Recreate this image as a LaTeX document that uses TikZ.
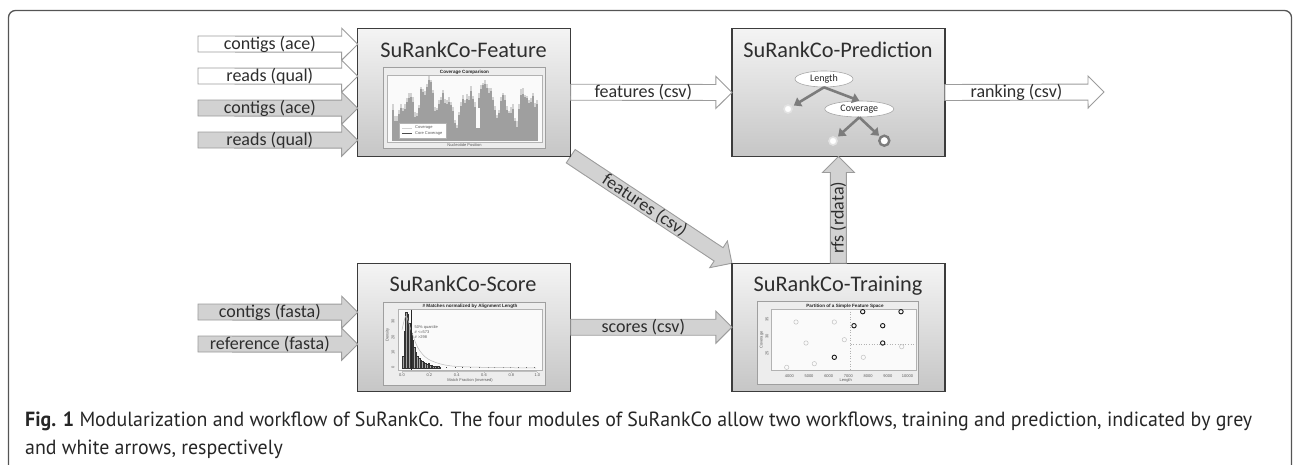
\documentclass[tikz,border=0pt]{standalone}
\usepackage{fontspec}
\setmainfont{Carlito}
\newfontfamily\capfont{PT Sans}
\newfontfamily\plotfont{Liberation Sans}
\usetikzlibrary{calc,arrows.meta,shapes.geometric}
\definecolor{boxline}{HTML}{3C3C3C}
\definecolor{boxtop}{HTML}{F4F4F4}
\definecolor{boxbot}{HTML}{C6C6C6}
\definecolor{arrline}{HTML}{9C9C9C}
\definecolor{arrgrey}{HTML}{D2D2D2}
\definecolor{txt}{HTML}{2E2E2E}
\definecolor{framec}{HTML}{555555}
\definecolor{treec}{HTML}{7C7C7C}
\tikzset{
  modbox/.style={draw=boxline, line width=1.4pt, top color=boxtop, bottom color=boxbot,
    minimum width=213pt, minimum height=128pt, inner sep=0pt, outer sep=0pt},
  modtitle/.style={font=\fontsize{22.3}{26}\selectfont, text=txt, inner sep=0pt, anchor=base},
  whitearr/.style={draw=arrline, fill=white, line width=0.9pt, line join=miter},
  greyarr/.style={draw=arrline, fill=arrgrey, line width=0.9pt, line join=miter},
  arrlabel/.style={font=\fontsize{18}{21}\selectfont, text=txt, inner sep=0pt},
  chartframe/.style={draw=gray!75, fill=gray!14, line width=0.6pt},
  plotarea/.style={draw=gray!60, fill=gray!4, line width=0.5pt},
  tiny/.style={font=\plotfont\fontsize{4}{5}\selectfont, text=gray!70!black, inner sep=0pt},
  tinyt/.style={font=\plotfont\bfseries\fontsize{4.6}{5}\selectfont, text=gray!30!black, inner sep=0pt},
  treearr/.style={draw=treec, line width=2.6pt, -{Triangle[length=7pt,width=10pt]}},
  treenode/.style={ellipse, draw=gray!70, fill=white, line width=0.6pt, inner sep=0pt,
    font=\fontsize{10}{11}\selectfont, text=gray!30!black},
  lightleaf/.style={circle, draw=gray!22, line width=1.6pt, fill=white, minimum size=8pt, inner sep=0pt},
  ringleaf/.style={circle, draw=treec, line width=2.4pt, fill=white, minimum size=10pt, inner sep=0pt},
  lpt/.style={draw=gray!45, line width=0.55pt},
  dpt/.style={draw=gray!20!black, line width=0.9pt},
}
% block arrow: style, start, end, label
\newcommand\barrow[4]{%
  \coordinate (bas) at (#2);
  \coordinate (bae) at (#3);
  \coordinate (bah) at ($(bae)!16pt!(bas)$);
  \path[#1] ($(bas)!8pt!90:(bae)$) -- ($(bah)!8pt!-90:(bas)$) -- ($(bah)!16pt!-90:(bas)$)
     -- (bae) -- ($(bah)!16pt!90:(bas)$) -- ($(bah)!8pt!90:(bas)$) -- ($(bas)!8pt!-90:(bae)$) -- cycle;
  \path (bas) -- (bah) node[midway, sloped, arrlabel] {#4};
}
\newlength\capw
\begin{document}
\settowidth\capw{\capfont\fontsize{20.5}{24}\selectfont\textbf{Fig. 1} Modularization and workflow of SuRankCo. The four modules of SuRankCo allow two workflows, training and prediction, indicated by grey}%
\pgfmathsetmacro\cs{1227/\capw}%
\begin{tikzpicture}[x=1pt, y=-1pt]
\useasboundingbox (0,0) rectangle (1293,464);
% outer frame
\draw[framec, line width=1.3pt, rounded corners=7pt] (8.5,470) -- (8.5,10.5) -- (1291.5,10.5) -- (1291.5,470);

% named positions
\coordinate (in1) at (198,44);
\coordinate (in2) at (198,76);
\coordinate (in3) at (198,108);
\coordinate (in4) at (198,140);
\coordinate (in5) at (198,312);
\coordinate (in6) at (198,344);
\coordinate (rankend) at (1104,92);

% module boxes (placed first as nodes, drawn later)
\path (464.2,92.2) node[minimum width=213pt, minimum height=128pt, inner sep=0pt, outer sep=0pt] (feat) {};
\path (838.4,92.5) node[minimum width=213pt, minimum height=128pt, inner sep=0pt, outer sep=0pt] (pred) {};
\path (464.2,327.2) node[minimum width=213pt, minimum height=128pt, inner sep=0pt, outer sep=0pt] (score) {};
\path (838.4,327.2) node[minimum width=213pt, minimum height=128pt, inner sep=0pt, outer sep=0pt] (train) {};

% diagonal arrow (below boxes)
\barrow{greyarr}{feat.south east}{train.north west}{features (csv)}

% boxes
\node[modbox] at (feat) {};
\node[modbox] at (pred) {};
\node[modbox] at (score) {};
\node[modbox] at (train) {};

% titles
\node[modtitle] (featT) at (463.5,57) {SuRankCo-Feature};
\node[modtitle] (predT) at (838,57) {SuRankCo-Prediction};
\node[modtitle] (scoreT) at (463,291.5) {SuRankCo-Score};
\node[modtitle] (trainT) at (838,291.5) {SuRankCo-Training};

% input arrows
\barrow{whitearr}{in1}{$(feat.west)+(0,-48)$}{contigs (ace)}
\barrow{whitearr}{in2}{$(feat.west)+(0,-16)$}{reads (qual)}
\barrow{greyarr}{in3}{$(feat.west)+(0,16)$}{contigs (ace)}
\barrow{greyarr}{in4}{$(feat.west)+(0,48)$}{reads (qual)}
\barrow{greyarr}{in5}{$(score.west)+(0,-15)$}{contigs (fasta)}
\barrow{greyarr}{in6}{$(score.west)+(0,17)$}{reference (fasta)}

% connections
\barrow{whitearr}{feat.east}{pred.west}{features (csv)}
\barrow{whitearr}{pred.east}{rankend}{ranking (csv)}
\barrow{greyarr}{score.east}{train.west}{scores (csv)}
\barrow{greyarr}{train.north}{pred.south}{rfs (rdata)}

% ---------- Feature chart ----------
\draw[chartframe] (383.5,67) rectangle (545.5,148.5);
\draw[plotarea] (387,75.5) rectangle (542.5,142);
\node[tinyt] (covtitle) at (464.5,72) {Coverage Comparison};
\pgfmathsetseed{11}
\foreach \i in {0,...,72}{
  \pgfmathsetmacro\tp{98 + 10*sin(\i*37) + 9*sin(\i*13+40) + 7*sin(\i*71) + 9*rnd}
  \pgfmathsetmacro\tpp{\tp - 2 - 4*rnd}
  \fill[gray!35] (392+2*\i,141.3) rectangle (394+2*\i,\tpp);
  \fill[gray!75] (392+2*\i,141.3) rectangle (394+2*\i,\tp);
}
\fill[gray!75] (476,141.3) rectangle (480,128);
\fill[gray!4] (476,128) rectangle (480,108);
\draw[fill=white, draw=gray!60, line width=0.4pt] (399.5,123) rectangle (446,138);
\draw[gray!35, line width=1pt] (402,128) -- (412,128);
\draw[gray!60!black, line width=1pt] (402,133.5) -- (412,133.5);
\node[tiny, anchor=west] (lg1) at (415,128) {Coverage};
\node[tiny, anchor=west] (lg2) at (415,133.5) {Core Coverage};
\node[tiny] (nucl) at (464.5,145.5) {Nucleotide Position};

% ---------- Score chart (histogram) ----------
\draw[chartframe] (383.5,302) rectangle (545.5,385);
\draw[plotarea] (398.3,309.7) rectangle (542.3,370.7);
\node[tinyt] (histtitle) at (470,306.5) {\# Matches normalized by Alignment Length};
\foreach \k/\t in {0/356,1/331,2/312,3/314,4/323,5/333,6/340,7/347,8/352,9/356,10/358,11/360,12/361,13/362,14/363,15/364,16/363,17/365,18/365,19/366,20/366,21/366.5,22/366,23/367}{
  \draw[fill=gray!70, draw=gray!40!black, line width=0.2pt] (402+1.6*\k,368) rectangle (403.6+1.6*\k,\t);
}
\foreach \x in {440,446,455,462,470,479,488,494,503,510,518,526,534}{
  \draw[gray!50!black, line width=0.5pt] (\x,368) -- (\x,366.8);
}
\draw[gray!55, line width=0.5pt] plot[smooth] coordinates {(402,330) (406,316) (411,330) (418,348) (428,359) (445,365) (470,367) (536,368)};
\draw[gray!30!black, line width=1.4pt] (411.7,309.7) -- (411.7,370);
\node[tiny, anchor=west] (q1) at (414.5,327.3) {50\% quantile};
\node[tiny, anchor=west] (q2) at (414.5,332.3) {\# <=573};
\node[tiny, anchor=west] (q3) at (414.5,337.3) {\# >298};
\draw[gray!50, line width=0.4pt] (402,371.5) -- (537,371.5);
\foreach \x/\l in {402/0.0,429.3/0.2,456.7/0.4,484/0.6,511.3/0.8,537.3/1.0}{
  \draw[gray!50, line width=0.4pt] (\x,371.5) -- (\x,372.8);
  \node[tiny] at (\x,375) {\l};
}
\node[tiny] (mf) at (470,380.5) {Match Fraction (inversed)};
\foreach \y/\l in {321.3/30,337/20,352/10,367.3/0}{
  \node[tiny, rotate=90] at (393,\y) {\l};
}
\node[tiny, rotate=90] (dens) at (387.5,334.7) {Density};

% ---------- Training chart (scatter) ----------
\draw[chartframe] (757.3,301) rectangle (918.3,384);
\draw[plotarea] (771.7,309) rectangle (916.7,370.5);
\node[tinyt] (sctitle) at (845,306.7) {Partition of a Simple Feature Space};
\draw[gray!60, dotted, line width=0.6pt] (850.7,309) -- (850.7,370.5);
\draw[gray!60, dotted, line width=0.6pt] (850.7,344.3) -- (916.7,344.3);
\foreach \x/\y in {796/322,834.3/322,806/343,844.3/339.7,863.3/357.3,901.7/346.7,814.3/363.7,786.7/367.3}{
  \draw[lpt] (\x,\y) circle (2.2pt);
}
\foreach \x/\y in {862.7/311.7,901/311.7,854/325.7,882.7/325.7,882.7/343,834.3/357.3}{
  \draw[dpt] (\x,\y) circle (2.2pt);
}
\foreach \x/\l in {789.3/4000,809/5000,828.7/6000,848.4/7000,868.1/8000,887.8/9000,907.5/10000}{
  \node[tiny] at (\x,375.7) {\l};
}
\node[tiny] (lenlab) at (845.7,380.7) {Length};
\foreach \y/\l in {319/35,336/30,353/25}{
  \node[tiny, rotate=90] at (767,\y) {\l};
}
\node[tiny, rotate=90] (covlab) at (761.7,340) {Coverage};

% ---------- Prediction tree ----------
\node[treenode, minimum width=58pt, minimum height=16pt] (len) at (824,79) {Length};
\node[treenode, minimum width=69pt, minimum height=16pt] (cov) at (859.3,109) {Coverage};
\node[lightleaf] (leaf1) at (788,109) {};
\node[lightleaf] (leaf2) at (833,141) {};
\node[ringleaf] (leaf3) at (884.3,140.7) {};
\draw[treearr, shorten >=2pt] (len.south) -- (leaf1);
\draw[treearr] (len.south) -- (cov.north);
\draw[treearr, shorten >=2pt] (cov.south) -- (leaf2);
\draw[treearr, shorten >=1pt] (cov.south) -- (leaf3);

% ---------- caption ----------
\node[anchor=base west, inner sep=0pt, text=black!85] (cap1) at (25,426)
  {\scalebox{\cs}[1]{\capfont\fontsize{20.5}{24}\selectfont\textbf{Fig. 1} Modularization and workflow of SuRankCo. The four modules of SuRankCo allow two workflows, training and prediction, indicated by grey}};
\node[anchor=base west, inner sep=0pt, text=black!85] (cap2) at (25,454)
  {\scalebox{\cs}[1]{\capfont\fontsize{20.5}{24}\selectfont and white arrows, respectively}};
\end{tikzpicture}
\end{document}
